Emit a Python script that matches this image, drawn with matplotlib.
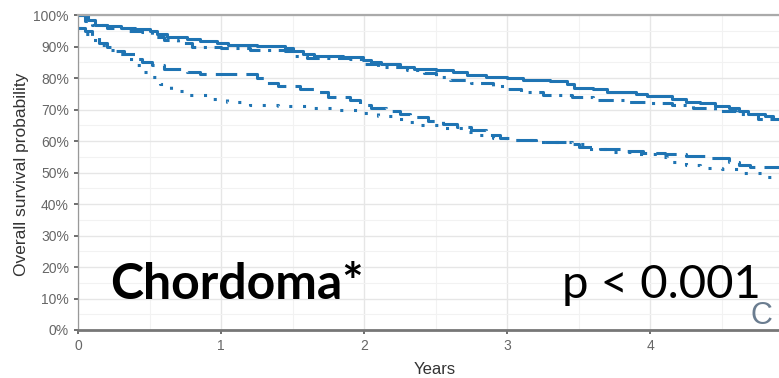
import numpy as np
import matplotlib.pyplot as plt
from matplotlib.ticker import MultipleLocator, FuncFormatter

# Kaplan-Meier step curves (years, survival %)
solid_t = [0, 0.07, 0.12, 0.20, 0.30, 0.40, 0.50, 0.55, 0.62, 0.76, 0.85, 0.97,
           1.05, 1.25, 1.45, 1.50, 1.57, 1.65, 1.85, 1.99, 2.05, 2.12, 2.25, 2.35,
           2.50, 2.62, 2.72, 2.85, 3.00, 3.11, 3.30, 3.42, 3.47, 3.60, 3.70, 3.90,
           3.98, 4.15, 4.25, 4.35, 4.45, 4.55, 4.62, 4.68, 4.80, 4.86, 4.92]
solid_s = [100, 98.5, 97, 96.5, 96, 95.5, 95, 94, 93, 92.3, 91.8, 91,
           90.5, 90.2, 89.5, 88.5, 87.5, 87, 86.8, 85.8, 85, 84.5, 83.5, 83,
           82.5, 81.8, 81, 80.5, 80, 79.5, 79, 78, 77, 76.5, 75.5, 75,
           74.2, 73.5, 72.5, 72, 71, 70.5, 69.5, 68.5, 68, 67, 66]

dotdash_t = [0, 0.05, 0.10, 0.20, 0.35, 0.45, 0.52, 0.60, 0.70, 0.80, 1.00,
             1.20, 1.45, 1.50, 1.60, 1.90, 2.00, 2.10, 2.30, 2.42, 2.50, 2.60,
             2.75, 2.90, 3.00, 3.10, 3.25, 3.45, 3.60, 3.85, 4.00, 4.15, 4.30,
             4.45, 4.60, 4.75, 4.92]
dotdash_s = [100, 98, 97, 96, 95, 94.5, 93, 92, 91, 90, 89.5,
             89, 88.5, 87, 86.5, 86, 84.5, 83.5, 82.5, 81.5, 80.5, 79.5,
             78.5, 77.5, 76.5, 75.5, 74.5, 74, 73, 72.5, 72, 71.5, 70.5,
             69.5, 68.5, 67, 66]

dashed_t = [0, 0.05, 0.10, 0.15, 0.20, 0.25, 0.32, 0.40, 0.45, 0.52, 0.60,
            0.76, 0.85, 1.25, 1.30, 1.40, 1.55, 1.65, 1.75, 1.90, 1.97, 2.05,
            2.15, 2.25, 2.32, 2.45, 2.55, 2.65, 2.75, 2.85, 2.95, 3.05, 3.20,
            3.45, 3.50, 3.65, 3.80, 3.95, 4.10, 4.25, 4.40, 4.55, 4.62, 4.70, 4.95]
dashed_s = [96, 95, 93, 91, 90, 88.5, 87.5, 86, 85, 84, 83,
            82, 81.3, 80, 78.5, 77.5, 76.5, 75.5, 74, 73, 71.5, 70.5,
            69.5, 68.5, 67.5, 66.5, 65.5, 64.5, 63.5, 62, 61, 60.3, 59.8,
            59.2, 58.2, 57.5, 56.8, 56.2, 55.8, 55.2, 54.5, 53.5, 52.5, 51.8, 51.8]

dotted_t = [0, 0.05, 0.10, 0.15, 0.20, 0.27, 0.33, 0.40, 0.45, 0.50, 0.57,
            0.65, 0.76, 0.90, 1.04, 1.20, 1.40, 1.60, 1.80, 2.00, 2.10, 2.20,
            2.30, 2.40, 2.55, 2.70, 2.80, 2.90, 3.00, 3.20, 3.45, 3.55, 3.70,
            3.90, 4.05, 4.12, 4.25, 4.35, 4.50, 4.65, 4.80, 4.95]
dotted_s = [96, 94, 92, 90.5, 89, 87.5, 86, 84, 82, 80.5, 78,
            76, 74.5, 73.5, 72.5, 71.5, 71, 70.5, 69.8, 69, 68, 67,
            66, 65, 64, 63, 62, 61, 60.3, 59.8, 59.2, 57.5, 56.5,
            56, 55, 53.5, 52.5, 51.5, 51, 50, 48.5, 48]

year_ticks = [0, 1, 2, 3, 4]

blue = '#1f74b3'

fig = plt.figure(figsize=(7.79, 3.78), dpi=100)
ax = fig.add_axes([0.1001, 0.127, 0.955, 0.833])

ax.step(solid_t, solid_s, where='post', color=blue, lw=2.2, ls='-')
ax.step(dotdash_t, dotdash_s, where='post', color=blue, lw=2.2, ls=(0, (5, 2.5, 1, 2.5)))
ax.step(dashed_t, dashed_s, where='post', color=blue, lw=2.2, ls=(0, (7, 3)))
ax.step(dotted_t, dotted_s, where='post', color=blue, lw=2.2, ls=(0, (1, 3.5)))

ax.set_xlim(0, 5.2)
ax.set_ylim(0, 100)
ax.set_xticks(year_ticks)
ax.xaxis.set_minor_locator(MultipleLocator(0.5))
ax.yaxis.set_major_locator(MultipleLocator(10))
ax.yaxis.set_minor_locator(MultipleLocator(5))
ax.yaxis.set_major_formatter(FuncFormatter(lambda v, p: f'{int(v)}%'))

ax.grid(which='major', color='#e6e6e6', lw=1.0)
ax.grid(which='minor', color='#f2f2f2', lw=0.8)
ax.set_axisbelow(True)

ax.spines['right'].set_visible(False)
ax.spines['top'].set_color('#aaaaaa')
ax.spines['top'].set_linewidth(1.6)
ax.spines['left'].set_color('#999999')
ax.spines['left'].set_linewidth(0.9)
ax.spines['bottom'].set_color('#777777')
ax.spines['bottom'].set_linewidth(2.0)

ax.tick_params(axis='both', which='major', colors='#555555', labelsize=10,
               length=3, width=1.2, labelcolor='#666666')
ax.tick_params(which='minor', length=0)
for lab in ax.get_xticklabels() + ax.get_yticklabels():
    lab.set_family('Liberation Sans')

fig.text(0.028, 0.54, 'Overall survival probability', rotation=90,
         ha='center', va='center', fontsize=12.5, color='#333333',
         family='Liberation Sans')
fig.text(0.558, 0.022, 'Years', ha='center', va='center', fontsize=12,
         color='#333333', family='Liberation Sans')

fig.text(0.304, 0.247, 'Chordoma*', ha='center', va='center', fontsize=36,
         fontweight='bold', family='Lato', color='black')
fig.text(0.849, 0.247, 'p < 0.001', ha='center', va='center', fontsize=34,
         family='Lato', color='black')
fig.text(0.977, 0.165, 'C', ha='center', va='center', fontsize=22,
         color='#6b7d90', family='Liberation Sans')

fig.savefig('out.png', dpi=100)
